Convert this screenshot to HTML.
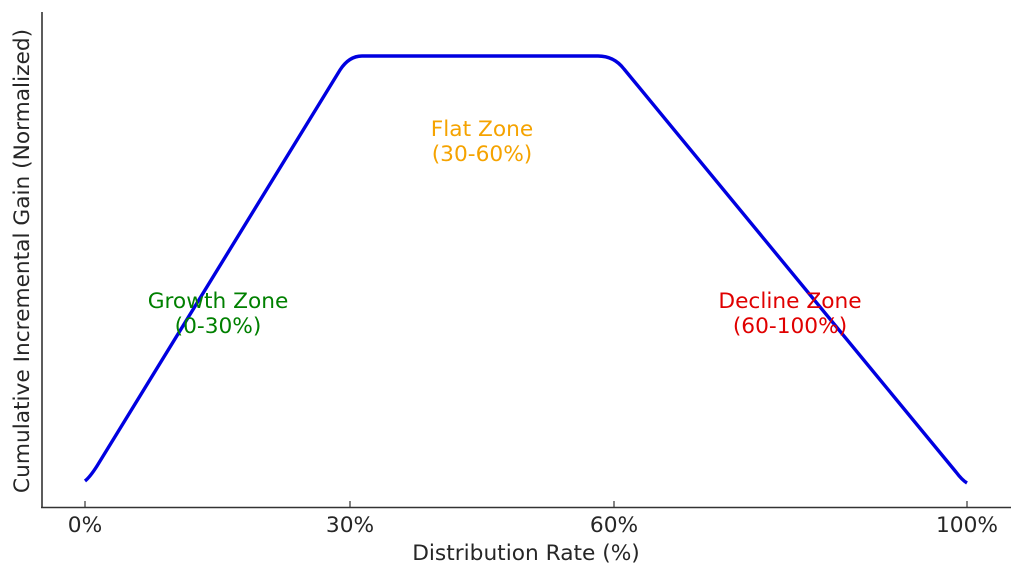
<!DOCTYPE html>
<html><head><style>body{margin:0;background:#fff}</style></head><body>
<svg width="1024" height="577" xmlns="http://www.w3.org/2000/svg" font-family="DejaVu Sans, Liberation Sans, sans-serif">
<rect width="1024" height="577" fill="#fff"/>
<path d="M85,481 Q90,477 97,466 L340,70 Q349,56 362,56 L598,56 Q614,56 624,69 L956,472 Q962,480 967,483" fill="none" stroke="#0000e0" stroke-width="3.4" stroke-linejoin="round"/>
<line x1="42" y1="12" x2="42" y2="508" stroke="#333" stroke-width="1.6"/>
<line x1="41" y1="507.5" x2="1011" y2="507.5" stroke="#333" stroke-width="1.6"/>
<g stroke="#333" stroke-width="1.2">
<line x1="85" y1="501" x2="85" y2="507"/><line x1="350" y1="501" x2="350" y2="507"/>
<line x1="614" y1="501" x2="614" y2="507"/><line x1="967" y1="501" x2="967" y2="507"/>
</g>
<g font-size="21.7" fill="#262626" text-anchor="middle">
<text x="85" y="532">0%</text><text x="350" y="532">30%</text><text x="614" y="532">60%</text><text x="967" y="532">100%</text>
<text x="526" y="560">Distribution Rate (%)</text>
<text transform="translate(29,261) rotate(-90)">Cumulative Incremental Gain (Normalized)</text>
</g>
<g font-size="21.7" text-anchor="middle">
<text x="218" y="308" fill="#008000">Growth Zone</text><text x="218" y="333" fill="#008000">(0-30%)</text>
<text x="482" y="136" fill="#f5a300">Flat Zone</text><text x="482" y="161" fill="#f5a300">(30-60%)</text>
<text x="790" y="308" fill="#e00000">Decline Zone</text><text x="790" y="333" fill="#e00000">(60-100%)</text>
</g>
</svg>
</body></html>
